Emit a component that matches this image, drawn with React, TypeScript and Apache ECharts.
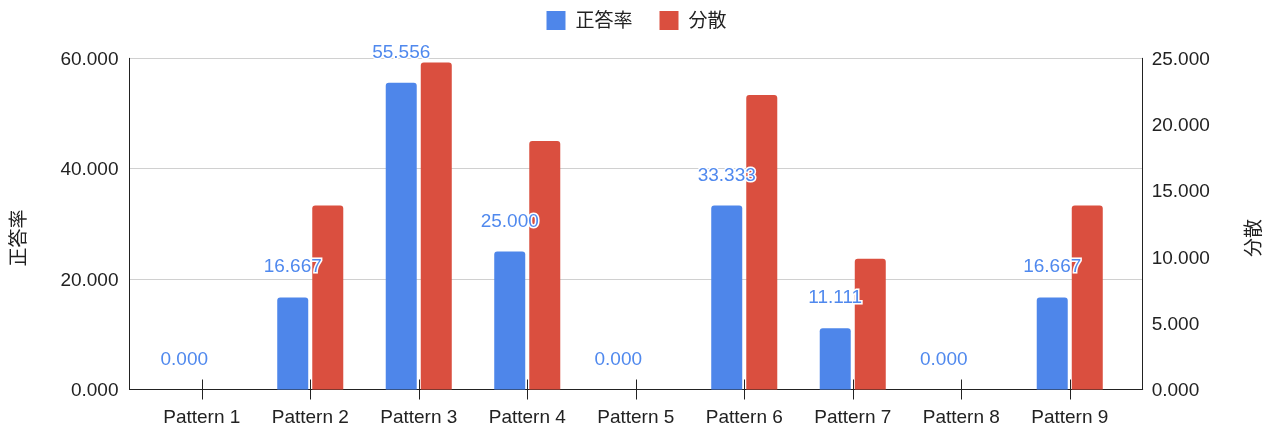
import React, { useEffect, useRef } from "react";
import * as echarts from "echarts";

const categories = ["Pattern 1", "Pattern 2", "Pattern 3", "Pattern 4", "Pattern 5", "Pattern 6", "Pattern 7", "Pattern 8", "Pattern 9"];
const accuracy = [0, 16.667, 55.556, 25, 0, 33.333, 11.111, 0, 16.667];
const variance = [0, 13.889, 24.691, 18.75, 0, 22.222, 9.877, 0, 13.889];
const leftTicks = { min: 0, max: 60, interval: 20 };
const rightTicks = { min: 0, max: 25, interval: 5 };
const seriesNames = ["正答率", "分散"];

const FONT = "'Liberation Sans', Arial, 'Noto Sans CJK JP', sans-serif";
const BLUE = "#4e86ea";
const RED = "#da4f3f";
const TXT = "#222";

export default function App() {
  const ref = useRef<HTMLDivElement>(null);
  useEffect(() => {
    if (!ref.current) return;
    const chart = echarts.init(ref.current, null, { renderer: "svg" });
    const fmt = (v: number) => v.toFixed(3);
    chart.setOption({
      animation: false,
      textStyle: { fontFamily: FONT },
      legend: {
        top: 11,
        left: "center",
        padding: 0,
        itemWidth: 19,
        itemHeight: 19,
        itemGap: 27,
        icon: "rect",
        textStyle: { fontSize: 19, color: TXT, fontFamily: FONT, padding: [0, 0, 0, 5] },
        data: seriesNames,
      },
      grid: [
        { left: 129.5, right: 130.3, top: 58.3, bottom: 39.5 },
        { left: 147.5, right: 149, top: 58.3, bottom: 39.5 },
      ],
      xAxis: [
        {
          gridIndex: 0,
          type: "category",
          data: categories,
          axisLine: { show: true, lineStyle: { color: "#222", width: 1 } },
          axisTick: { show: false },
          axisLabel: { show: false },
          splitLine: { show: false },
        },
        {
          gridIndex: 1,
          type: "category",
          position: "bottom",
          data: categories,
          axisLine: { show: false },
          axisTick: { show: true, alignWithLabel: true, length: 10, lineStyle: { color: "#222" } },
          axisLabel: { fontSize: 19, color: TXT, margin: 17, fontFamily: FONT },
        },
        {
          gridIndex: 1,
          type: "category",
          position: "bottom",
          data: categories,
          axisLine: { show: false },
          axisTick: { show: true, inside: true, alignWithLabel: true, length: 10, lineStyle: { color: "#222" } },
          axisLabel: { show: false },
        },
      ],
      yAxis: [
        {
          gridIndex: 0,
          type: "value",
          position: "left",
          ...leftTicks,
          name: seriesNames[0],
          nameLocation: "middle",
          nameGap: 102,
          nameRotate: 90,
          nameTextStyle: { fontSize: 19, color: TXT, fontFamily: FONT, padding: [0, 28, 0, 0] },
          axisLine: { show: true, lineStyle: { color: "#222" } },
          axisTick: { show: false },
          axisLabel: { fontSize: 19, color: TXT, margin: 11, formatter: fmt, fontFamily: FONT },
          splitLine: { show: true, lineStyle: { color: "#d0d0d0" } },
        },
        {
          gridIndex: 0,
          type: "value",
          position: "right",
          ...rightTicks,
          name: seriesNames[1],
          nameLocation: "middle",
          nameGap: 101,
          nameRotate: 90,
          nameTextStyle: { fontSize: 19, color: TXT, fontFamily: FONT, padding: [0, 28, 0, 0] },
          axisLine: { show: true, lineStyle: { color: "#222" } },
          axisTick: { show: false },
          axisLabel: { fontSize: 19, color: TXT, margin: 9, formatter: fmt, fontFamily: FONT },
          splitLine: { show: false },
        },
        { gridIndex: 1, type: "value", ...leftTicks, show: false, splitLine: { show: false } },
        { gridIndex: 1, type: "value", ...rightTicks, show: false, splitLine: { show: false } },
      ],
      series: [
        {
          name: seriesNames[0],
          type: "bar",
          xAxisIndex: 1,
          yAxisIndex: 2,
          data: accuracy,
          barWidth: 31,
          barGap: "13%",
          itemStyle: { color: BLUE, borderRadius: [3, 3, 0, 0] },
          label: {
            show: true,
            position: "top",
            distance: 22,
            formatter: (p: any) => fmt(p.value),
            color: "#5089ee",
            fontSize: 19,
            fontFamily: FONT,
            textBorderColor: "#fff",
            textBorderWidth: 3,
          },
          z: 3,
        },
        {
          name: seriesNames[1],
          type: "bar",
          xAxisIndex: 1,
          yAxisIndex: 3,
          data: variance,
          barWidth: 31,
          barGap: "13%",
          itemStyle: { color: RED, borderRadius: [3, 3, 0, 0] },
          z: 2,
        },
      ],
    });
    return () => chart.dispose();
  }, []);
  return <div ref={ref} style={{ position: "fixed", left: 0, top: 0, width: 1273, height: 429 }} />;
}
